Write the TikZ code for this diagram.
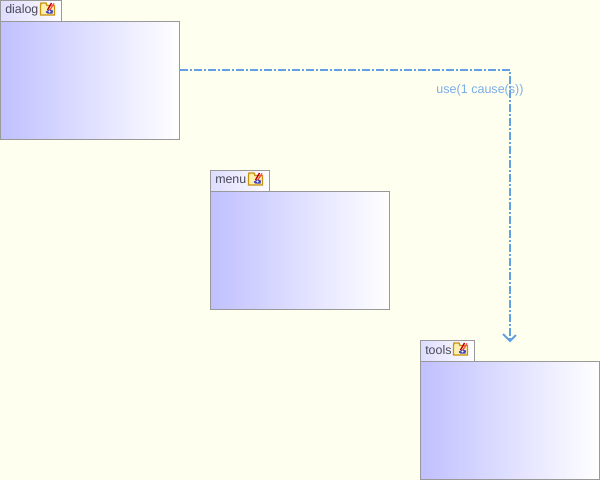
\documentclass[tikz,border=0pt]{standalone}
\usepackage{fontspec}
\setmainfont{Liberation Sans}
\usetikzlibrary{calc}
\definecolor{bgc}{HTML}{FFFFF0}
\definecolor{edgec}{HTML}{999999}
\definecolor{startc}{HTML}{C0C0FF}
\definecolor{linkc}{HTML}{62A0E2}
\definecolor{labelc}{HTML}{7AAEE8}
\definecolor{textc}{HTML}{4A4A58}
\definecolor{foldc}{HTML}{C8920F}
\definecolor{foldf}{HTML}{FFF0B0}
\tikzset{
 pkgbody/.style={draw=edgec,line width=0.75pt,left color=startc,right color=white,minimum width=134.25pt,minimum height=88.5pt,inner sep=0pt,outer sep=0pt,anchor=north west},
 pkgtab/.style={draw=edgec,line width=0.75pt,left color=startc!55,right color=white,minimum height=15.75pt,inner sep=0pt,outer sep=0pt,anchor=south west},
 pkgname/.style={anchor=west,inner sep=0pt,font=\fontsize{9.3}{10}\selectfont,text=textc},
 link/.style={draw=linkc,line width=1.5pt},
 linklabel/.style={font=\fontsize{9.4}{10}\selectfont,text=labelc,inner sep=0pt},
}
\newcommand{\foldericon}[1]{%
 \begin{scope}[shift={(#1)}]
  \fill[fill=foldf,draw=foldc,line width=1pt] (0.5,3.5)--(0.5,13)--(14.5,13)--(14.5,3.5)--(7,3.5)--(6,1)--(1,1)--cycle;
  \draw[red!75!black,line width=1pt] (7.5,8)--(11.5,1);
  \draw[red!70!white,line width=1pt] (9.5,8.5)--(14,1.5);
  \fill[blue!45!gray] (5.5,10)--(9,7.5)--(13,8.5)--(12.5,11.5)--(7.5,11.5)--cycle;
  \fill[white] (9.5,9.5) circle (1.2);
 \end{scope}}
\begin{document}
\begin{tikzpicture}[x=0.75pt,y=-0.75pt]
\useasboundingbox (0,0) rectangle (600,480);
\fill[bgc] (0,0) rectangle (600,480);
% bodies
\node[pkgbody] (dialog) at (0.5,21.5) {};
\node[pkgbody] (menu) at (210.5,191.5) {};
\node[pkgbody] (tools) at (420.5,361.5) {};
% tabs
\node[pkgtab,minimum width=45.75pt] (dialogtab) at (dialog.north west) {};
\node[pkgname] (dialogname) at (5,10) {dialog};
\foldericon{40,2}
\node[pkgtab,minimum width=44.25pt] (menutab) at (menu.north west) {};
\node[pkgname] (menuname) at (215,180) {menu};
\foldericon{248,172}
\node[pkgtab,minimum width=40.5pt] (toolstab) at (tools.north west) {};
\node[pkgname] (toolsname) at (425,350) {tools};
\foldericon{453,342}
% connector
\coordinate (start) at (dialog.east |- 0,70);
\coordinate (bend) at (510,70);
\coordinate (tip) at (510,341);
\draw[link,dash pattern=on 6pt off 1.5pt on 1.5pt off 1.5pt] (start) -- (bend) -- (tip);
\draw[link,line width=1.5pt] ($(tip)+(-7,-7)$) -- (tip) -- ($(tip)+(6,-6)$);
\node[linklabel] (uselabel) at (480,90) {use(1 cause(s))};
\end{tikzpicture}
\end{document}
